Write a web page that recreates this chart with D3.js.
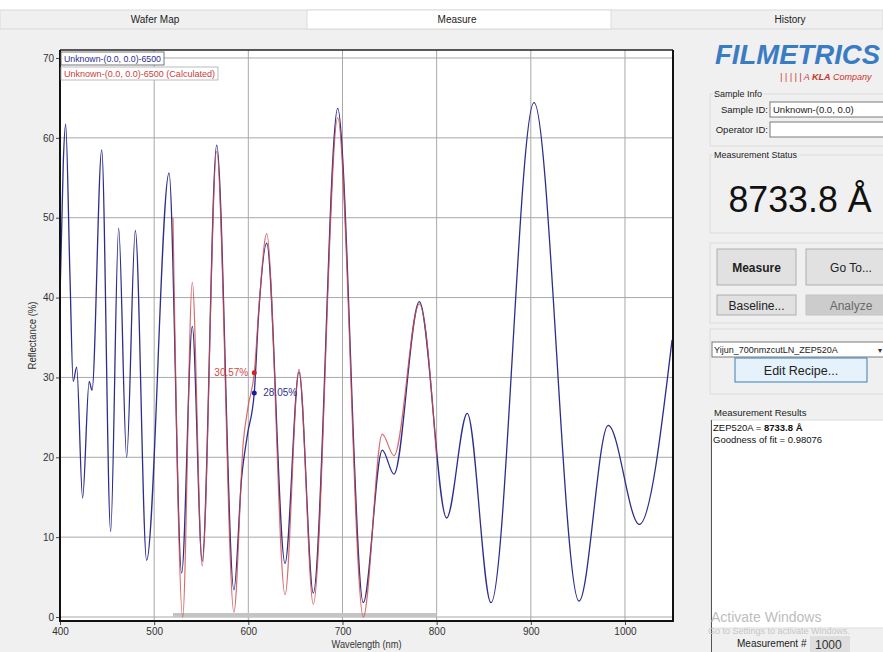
<!DOCTYPE html>
<html>
<head>
<meta charset="utf-8">
<script src="https://cdn.jsdelivr.net/npm/d3@7/dist/d3.min.js"></script>
<style>
  html, body { margin: 0; padding: 0; background: #f0f0f0; }
  svg { display: block; font-family: "Liberation Sans", Arial, sans-serif; }
</style>
</head>
<body>
<svg id="app" width="883" height="652"></svg>
<script>
// Measured reflectance spectrum (wavelength in nm, reflectance in %)
const measuredWl = [400, 403.5, 406, 410.6, 414, 417.7, 424, 431, 434, 444.3, 453.8, 462.3, 470.8, 480, 492,
  515.8, 529.2, 540.5, 551, 566.4, 584.7, 593, 599, 606.3, 611, 619.5, 639, 653.8, 669, 694.9,
  722.1, 742.2, 754.7, 781.6, 810.6, 832.5, 857.7, 903.4, 951.2, 982.2, 1015.2, 1050];
const measuredR = [40, 57, 61.7, 42.6, 29.5, 31.3, 14.9, 29.5, 28.4, 58.5, 10.7, 48.7, 20, 48.4, 7.1,
  55.6, 5.5, 36.4, 7.0, 59.1, 3.4, 17.6, 22.8, 28.05, 38, 46.8, 6.7, 30.7, 3.0, 63.7,
  1.8, 20.9, 17.9, 39.5, 12.4, 25.5, 1.8, 64.4, 2.0, 24.0, 11.6, 34.7];

// Calculated (fitted) reflectance over the fit range
const calcWl = [520, 530.3, 540.5, 551, 566.4, 584.7, 594.7, 600, 606.3, 612, 619.5, 639, 653.8, 669,
  694.9, 722.1, 742.2, 754.7, 781.6, 800];
const calcR = [50, 0, 41.9, 6.4, 58.3, 0.6, 22, 26.5, 30.57, 40, 48.0, 2.8, 31.0, 1.6,
  62.5, 0, 22.9, 20.2, 39.2, 20];

// Cursor readout
const cursorWl = 606.3;
const cursorMeasured = 28.05;
const cursorCalc = 30.57;

// Fit range
const fitRange = [520, 800];

// Axis ticks
const xTicks = [400, 500, 600, 700, 800, 900, 1000];
const yTicks = [0, 10, 20, 30, 40, 50, 60, 70];

// Tabs
const tabNames = ["Wafer Map", "Measure", "History"];

const svg = d3.select("#app");

/* ---------- window chrome ---------- */
svg.append("rect").attr("x", 0).attr("y", 0).attr("width", 883).attr("height", 652).attr("fill", "#f0f0f0");
svg.append("rect").attr("x", 0).attr("y", 0).attr("width", 883).attr("height", 10).attr("fill", "#ffffff");
svg.append("rect").attr("x", 0).attr("y", 10).attr("width", 883).attr("height", 19)
  .attr("fill", "#f0f0f0").attr("stroke", "#d9d9d9");
const tabX = [0, 307, 611, 970];
const tabLabelX = [155, 457, 790];
tabNames.forEach((name, i) => {
  const x0 = tabX[i], x1 = Math.min(tabX[i + 1], 883);
  if (name === "Measure") {
    svg.append("rect").attr("x", x0).attr("y", 10).attr("width", x1 - x0).attr("height", 19)
      .attr("fill", "#ffffff").attr("stroke", "#dcdcdc");
  }
  svg.append("text").attr("x", tabLabelX[i]).attr("y", 23)
    .attr("text-anchor", "middle").attr("font-size", 10).attr("fill", "#222").text(name);
});

/* ---------- chart ---------- */
const plot = { left: 60, right: 673, top: 50, bottom: 621 };
const x = d3.scaleLinear().domain([400, 1051]).range([plot.left, plot.right]);
const y = d3.scaleLinear().domain([-0.5, 71]).range([plot.bottom, plot.top]);

svg.append("rect").attr("x", plot.left).attr("y", plot.top)
  .attr("width", plot.right - plot.left).attr("height", plot.bottom - plot.top).attr("fill", "#ffffff");

// grid
const grid = svg.append("g");
grid.selectAll("line.v").data(xTicks.slice(1)).join("line")
  .attr("x1", d => x(d)).attr("x2", d => x(d)).attr("y1", plot.top).attr("y2", plot.bottom)
  .attr("stroke", "#a8a8a8").attr("stroke-width", 1);
grid.selectAll("line.h").data(yTicks).join("line")
  .attr("x1", plot.left).attr("x2", plot.right).attr("y1", d => y(d)).attr("y2", d => y(d))
  .attr("stroke", "#a8a8a8").attr("stroke-width", 1);

// fit range bar
svg.append("rect").attr("x", x(fitRange[0])).attr("y", y(0) - 4)
  .attr("width", x(fitRange[1]) - x(fitRange[0])).attr("height", 4).attr("fill", "#c4c4c4");

// axes
const xAxis = d3.axisBottom(x).tickValues(xTicks).tickFormat(d3.format("d")).tickSize(4).tickPadding(3);
const yAxis = d3.axisLeft(y).tickValues(yTicks).tickFormat(d3.format("d")).tickSize(4).tickPadding(2);
const gx = svg.append("g").attr("transform", `translate(0,${plot.bottom})`).call(xAxis);
const gy = svg.append("g").attr("transform", `translate(${plot.left},0)`).call(yAxis);
[gx, gy].forEach(g => {
  g.select(".domain").remove();
  g.selectAll("text").attr("font-size", 10).attr("fill", "#333")
    .attr("font-family", "Liberation Sans, Arial, sans-serif");
  g.selectAll("line").attr("stroke", "#444");
});

// plot frame
svg.append("line").attr("x1", plot.left).attr("x2", plot.right).attr("y1", plot.top).attr("y2", plot.top)
  .attr("stroke", "#222").attr("stroke-width", 1.5);
svg.append("line").attr("x1", plot.right).attr("x2", plot.right).attr("y1", plot.top).attr("y2", plot.bottom)
  .attr("stroke", "#111").attr("stroke-width", 2);
svg.append("line").attr("x1", plot.left).attr("x2", plot.left).attr("y1", plot.top).attr("y2", plot.bottom + 1)
  .attr("stroke", "#111").attr("stroke-width", 2);
svg.append("line").attr("x1", plot.left).attr("x2", plot.right + 1).attr("y1", plot.bottom).attr("y2", plot.bottom)
  .attr("stroke", "#111").attr("stroke-width", 2);

// axis titles
svg.append("text").attr("x", (plot.left + plot.right) / 2).attr("y", 648).attr("text-anchor", "middle")
  .attr("font-size", 10).attr("fill", "#333").attr("textLength", 70).attr("lengthAdjust", "spacingAndGlyphs")
  .text("Wavelength (nm)");
svg.append("text").attr("transform", `translate(36,${(plot.top + plot.bottom) / 2}) rotate(-90)`)
  .attr("text-anchor", "middle").attr("font-size", 10).attr("fill", "#333")
  .attr("textLength", 68).attr("lengthAdjust", "spacingAndGlyphs").text("Reflectance (%)");

// series
svg.append("clipPath").attr("id", "plotclip").append("rect")
  .attr("x", plot.left + 1).attr("y", plot.top).attr("width", plot.right - plot.left - 2)
  .attr("height", plot.bottom - plot.top - 1);

const line = d3.line().x(d => x(d[0])).y(d => y(d[1])).curve(d3.curveMonotoneX);
const measured = measuredWl.map((w, i) => [w, measuredR[i]]);
const calc = calcWl.map((w, i) => [w, calcR[i]]);

const series = svg.append("g").attr("clip-path", "url(#plotclip)");
series.append("path").datum(measured).attr("d", line).attr("fill", "none")
  .attr("stroke", "#2d2d8c").attr("stroke-width", 1.3);
series.append("path").datum(calc).attr("d", line).attr("fill", "none")
  .attr("stroke", "#cc4a4a").attr("stroke-width", 1.2).attr("stroke-opacity", 0.8);

// cursor readout
svg.append("circle").attr("cx", x(cursorWl)).attr("cy", y(cursorCalc)).attr("r", 2.5).attr("fill", "#d42020");
svg.append("circle").attr("cx", x(cursorWl)).attr("cy", y(cursorMeasured)).attr("r", 2.5).attr("fill", "#1a1aa8");
svg.append("text").attr("x", x(cursorWl) - 6).attr("y", y(cursorCalc) + 3.5).attr("text-anchor", "end")
  .attr("font-size", 10).attr("fill", "#d04848").text(cursorCalc.toFixed(2) + "%");
svg.append("text").attr("x", x(cursorWl) + 9).attr("y", y(cursorMeasured) + 3.5)
  .attr("font-size", 10).attr("fill", "#303090").text(cursorMeasured.toFixed(2) + "%");

// legend
const legendItems = [
  { label: "Unknown-(0.0, 0.0)-6500", color: "#2b2b90", stroke: "#555", w: 103 },
  { label: "Unknown-(0.0, 0.0)-6500 (Calculated)", color: "#c84040", stroke: "#aaa", w: 157 }
];
legendItems.forEach((d, i) => {
  const yy = 52 + i * 15;
  svg.append("rect").attr("x", 61).attr("y", yy).attr("width", d.w).attr("height", 13)
    .attr("fill", "#ffffff").attr("stroke", d.stroke).attr("stroke-width", 0.8);
  svg.append("text").attr("x", 64).attr("y", yy + 10).attr("font-size", 9).attr("fill", d.color)
    .attr("textLength", d.w - 6).attr("lengthAdjust", "spacingAndGlyphs").text(d.label);
});

/* ---------- right panel ---------- */
const panel = svg.append("g");
// logo
panel.append("text").attr("x", 715).attr("y", 64).attr("font-size", 28).attr("font-weight", 900)
  .attr("font-style", "italic").attr("fill", "#3a7cc3").attr("textLength", 165)
  .attr("lengthAdjust", "spacingAndGlyphs").text("FILMETRICS");
const tag = panel.append("text").attr("x", 780).attr("y", 80).attr("font-size", 9).attr("font-style", "italic")
  .attr("fill", "#c8302c");
tag.append("tspan").text("| | | | |  A ");
tag.append("tspan").attr("font-weight", "bold").text("KLA");
tag.append("tspan").text(" Company");

function groupBox(x0, y0, w, h, label) {
  panel.append("rect").attr("x", x0).attr("y", y0).attr("width", w).attr("height", h)
    .attr("fill", "none").attr("stroke", "#dcdcdc");
  if (label) {
    const t = panel.append("text").attr("x", x0 + 4).attr("y", y0 + 3).attr("font-size", 9).attr("fill", "#222").text(label);
    const bb = t.node().getBBox();
    panel.insert("rect", () => t.node()).attr("x", bb.x - 1).attr("y", bb.y).attr("width", bb.width + 2)
      .attr("height", bb.height).attr("fill", "#f0f0f0");
  }
}
groupBox(710, 94, 190, 52, "Sample Info");
panel.append("text").attr("x", 768).attr("y", 113).attr("text-anchor", "end").attr("font-size", 9.5).attr("fill", "#222").text("Sample ID:");
panel.append("rect").attr("x", 770).attr("y", 102).attr("width", 130).attr("height", 15).attr("fill", "#fff").attr("stroke", "#7a7a7a");
panel.append("text").attr("x", 773).attr("y", 113).attr("font-size", 9.5).attr("fill", "#222").text("Unknown-(0.0, 0.0)");
panel.append("text").attr("x", 768).attr("y", 133).attr("text-anchor", "end").attr("font-size", 9.5).attr("fill", "#222").text("Operator ID:");
panel.append("rect").attr("x", 770).attr("y", 122).attr("width", 130).attr("height", 15).attr("fill", "#fff").attr("stroke", "#7a7a7a");

groupBox(710, 155, 190, 78, "Measurement Status");
panel.append("text").attr("x", 800).attr("y", 212).attr("text-anchor", "middle").attr("font-size", 37)
  .attr("fill", "#111").attr("textLength", 143).attr("lengthAdjust", "spacingAndGlyphs").text("8733.8 Å");

groupBox(710, 243, 190, 80, null);
function button(x0, y0, w, h, label, opts = {}) {
  panel.append("rect").attr("x", x0).attr("y", y0).attr("width", w).attr("height", h)
    .attr("fill", opts.fill || "#e1e1e1").attr("stroke", opts.stroke || "#adadad").attr("stroke-width", opts.sw || 1);
  panel.append("text").attr("x", x0 + w / 2).attr("y", y0 + h / 2 + 4.5).attr("text-anchor", "middle")
    .attr("font-size", opts.fs || 12).attr("font-weight", opts.bold ? "bold" : "normal")
    .attr("fill", opts.color || "#222").text(label);
}
button(717, 249, 79, 36, "Measure", { bold: true });
button(806, 249, 90, 36, "Go To...");
button(717, 295, 79, 20, "Baseline...");
button(806, 295, 90, 20, "Analyze", { fill: "#cccccc", stroke: "#c4c4c4", color: "#6a6a6a" });

groupBox(710, 329, 190, 65, null);
panel.append("rect").attr("x", 712).attr("y", 342).attr("width", 180).attr("height", 15).attr("fill", "#fff").attr("stroke", "#7a7a7a");
panel.append("text").attr("x", 714).attr("y", 353).attr("font-size", 9).attr("fill", "#222").text("Yijun_700nmzcutLN_ZEP520A");
panel.append("text").attr("x", 878).attr("y", 353).attr("font-size", 8).attr("fill", "#333").text("▾");
button(735, 358, 132, 24, "Edit Recipe...", { fill: "#e5f1fb", stroke: "#3c7fb1", fs: 12.5 });

panel.append("text").attr("x", 714).attr("y", 416).attr("font-size", 9.5).attr("fill", "#222").text("Measurement Results");
panel.append("rect").attr("x", 711).attr("y", 420).attr("width", 190).attr("height", 208).attr("fill", "#ffffff")
  .attr("stroke", "#dcdcdc");
panel.append("line").attr("x1", 711.5).attr("x2", 711.5).attr("y1", 420).attr("y2", 652).attr("stroke", "#555");
const r1 = panel.append("text").attr("x", 713).attr("y", 431).attr("font-size", 9.5).attr("fill", "#111");
r1.append("tspan").text("ZEP520A = ");
r1.append("tspan").attr("font-weight", "bold").text("8733.8 Å");
panel.append("text").attr("x", 713).attr("y", 443).attr("font-size", 9.5).attr("fill", "#111").text("Goodness of fit = 0.98076");

panel.append("text").attr("x", 711).attr("y", 622).attr("font-size", 14).attr("fill", "#bdbdbd").text("Activate Windows");
panel.append("text").attr("x", 708).attr("y", 634).attr("font-size", 9).attr("fill", "#c6c6c6").text("Go to Settings to activate Windows.");
panel.append("text").attr("x", 737).attr("y", 647).attr("font-size", 10).attr("fill", "#222").text("Measurement #");
panel.append("rect").attr("x", 810).attr("y", 636).attr("width", 40).attr("height", 16).attr("fill", "#dedede");
panel.append("text").attr("x", 815).attr("y", 649).attr("font-size", 12).attr("fill", "#333").text("1000");
</script>
</body>
</html>
